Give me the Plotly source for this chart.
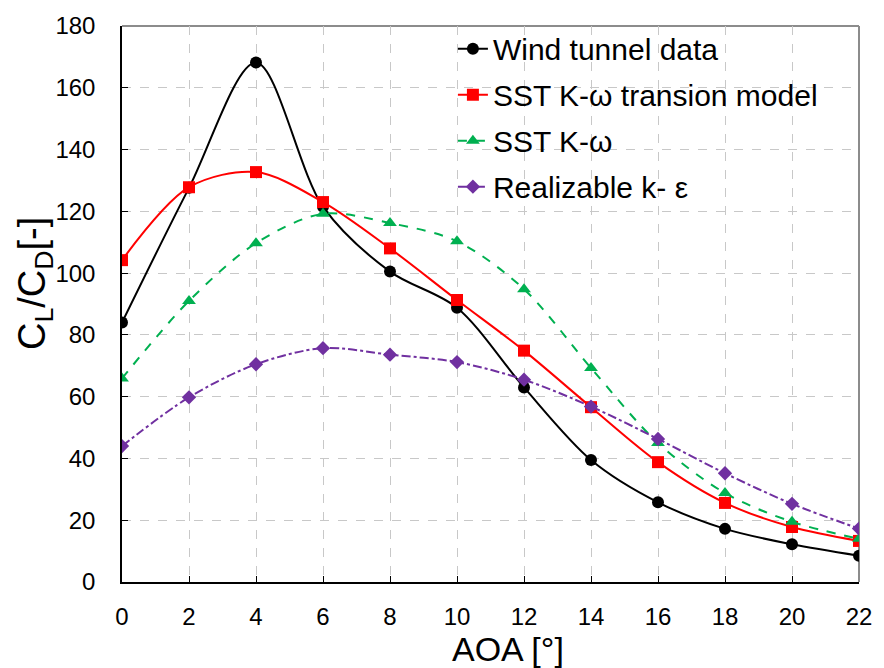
import plotly.graph_objects as go

aoa = [0, 2, 4, 6, 8, 10, 12, 14, 16, 18, 20, 22]
wind_tunnel = [84, 127.6, 168.2, 121.5, 100.5, 88.8, 63, 39.5, 25.8, 17.2, 12.2, 8.5]
sst_transition = [104.2, 127.8, 132.7, 123, 108, 91.3, 74.9, 56.6, 38.8, 25.6, 17.8, 13.3]
sst_kw = [65.9, 91, 109.7, 119.2, 116.2, 110.3, 94.8, 69.3, 45, 28.8, 19.5, 14]
realizable_ke = [44, 59.8, 70.5, 75.7, 73.6, 71.2, 65.5, 56.8, 46.3, 35.2, 25.3, 17.3]

names = ["Wind tunnel data", "SST K-ω transion model", "SST K-ω", "Realizable k- ε"]
x_title = "AOA [°]"
y_title = "C<sub>L</sub>/C<sub>D</sub>[-]"

FONT = "Liberation Sans, Arial, sans-serif"

fig = go.Figure()
specs = [
    (wind_tunnel, names[0], "black", "solid", "circle", 12),
    (sst_transition, names[1], "#FF0000", "solid", "square", 12),
    (sst_kw, names[2], "#00B050", "dash", "triangle-up", 12),
    (realizable_ke, names[3], "#7030A0", "dashdot", "diamond", 11),
]
for i, (vals, nm, col, dash, sym, ms) in enumerate(specs):
    fig.add_trace(go.Scatter(
        x=aoa, y=vals, name=nm, mode="lines+markers",
        line=dict(color=col, width=2, dash=dash, shape="spline", smoothing=0.9),
        marker=dict(symbol=sym, size=ms, color=col),
        legendgroup=f"g{i}",
    ))

grid = dict(showgrid=True, gridcolor="#C8C8C8", griddash="dash", gridwidth=1)

fig.update_xaxes(
    range=[0, 22], tickvals=aoa, ticktext=[str(v) for v in aoa],
    showline=True, linecolor="black", linewidth=1.5,
    ticks="inside", ticklen=6, tickcolor="black", ticklabelstandoff=12,
    tickfont=dict(family=FONT, size=24, color="black"),
    zeroline=False, **grid,
)
fig.update_yaxes(
    range=[0, 180], dtick=20,
    showline=True, linecolor="black", linewidth=1.5,
    ticks="inside", ticklen=6, tickcolor="black", ticklabelstandoff=20,
    tickfont=dict(family=FONT, size=24, color="black"),
    zeroline=False, **grid,
)

# axis titles
fig.add_annotation(text=x_title, xref="paper", yref="paper",
                   x=(512 - 122) / 745, y=-(649 - 582) / 558,
                   xanchor="center", yanchor="middle", showarrow=False,
                   font=dict(family=FONT, size=34, color="black"))
fig.add_annotation(text=y_title, xref="paper", yref="paper",
                   x=-(122 - 34) / 745, y=(582 - 282) / 558, textangle=-90,
                   xanchor="center", yanchor="middle", showarrow=False,
                   font=dict(family=FONT, size=38, color="black"))

# top / right grey border of plot area
fig.add_shape(type="line", xref="paper", yref="paper", x0=0, x1=1, y0=1, y1=1,
              line=dict(color="#8C8C8C", width=2), layer="below")
fig.add_shape(type="line", xref="paper", yref="paper", x0=1, x1=1, y0=0, y1=1,
              line=dict(color="#8C8C8C", width=2), layer="below")
# legend backdrop hiding gridlines
fig.add_shape(type="rect", xref="paper", yref="paper", x0=0.411, x1=0.99, y0=0.69, y1=0.997,
              fillcolor="rgba(255,255,255,0.8)", line=dict(width=0), layer="between")

fig.update_layout(
    width=884, height=668,
    margin=dict(l=122, r=17, t=24, b=86),
    paper_bgcolor="white", plot_bgcolor="white",
    showlegend=True,
    legend=dict(x=0.449, y=1.006, xanchor="left", yanchor="top",
                bgcolor="rgba(0,0,0,0)", borderwidth=0,
                font=dict(family=FONT, size=30, color="black"),
                traceorder="grouped", tracegroupgap=4, itemwidth=30),
)

fig.write_html("out.html")
